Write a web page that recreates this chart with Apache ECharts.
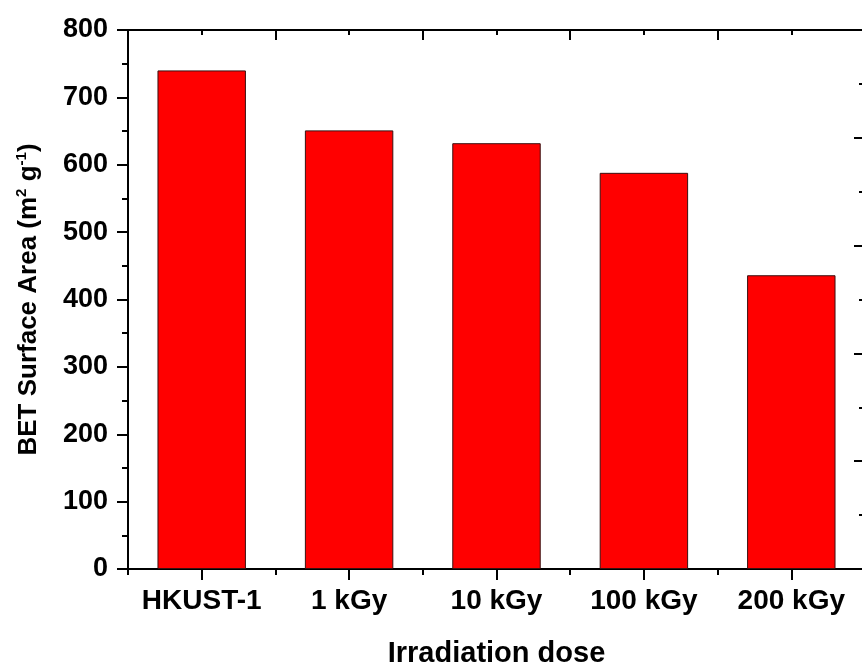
<!DOCTYPE html>
<html>
<head>
<meta charset="utf-8">
<script src="https://cdn.jsdelivr.net/npm/echarts@6/dist/echarts.min.js"></script>
<style>
  html, body { margin: 0; padding: 0; background: #fff; }
  #chart { width: 862px; height: 666px; }
</style>
</head>
<body>
<div id="chart"></div>
<script>
// data
const categories = ["HKUST-1", "1 kGy", "10 kGy", "100 kGy", "200 kGy"];
const betArea = [740, 651, 632, 588, 436];
const yTicks = { min: 0, max: 800, step: 100 };

const font = "'Liberation Sans', Arial, sans-serif";
const lineStyle = { color: "#000", width: 2 };

const chart = echarts.init(document.getElementById("chart"));

// hidden helper for the extra tick rows on the category axes
function tickAxis(position, inside, alignWithLabel, length) {
  return {
    type: "category",
    position: position,
    data: categories,
    axisLine: { show: true, lineStyle: lineStyle },
    axisTick: { show: true, inside: inside, alignWithLabel: alignWithLabel, length: length, lineStyle: lineStyle },
    axisLabel: { show: false },
    splitLine: { show: false },
  };
}

const option = {
  backgroundColor: "#fff",
  animation: false,
  grid: { left: 128, top: 30, width: 737, height: 539, containLabel: false, outerBoundsMode: "none" },
  xAxis: [
    {
      type: "category",
      position: "bottom",
      data: categories,
      name: "Irradiation dose",
      nameLocation: "middle",
      nameGap: 70,
      nameTextStyle: { fontFamily: font, fontWeight: "bold", fontSize: 29, color: "#000" },
      axisLine: { show: true, lineStyle: lineStyle },
      axisTick: { show: true, alignWithLabel: true, length: 11, lineStyle: lineStyle },
      axisLabel: { interval: 0, hideOverlap: false, margin: 18, fontFamily: font, fontWeight: "bold", fontSize: 28, color: "#000" },
    },
    tickAxis("bottom", false, false, 6),
    tickAxis("top", true, false, 10),
    tickAxis("top", true, true, 5),
  ],
  yAxis: [
    {
      type: "value",
      position: "left",
      min: yTicks.min,
      max: yTicks.max,
      interval: yTicks.step,
      name: "BET Surface Area (m{sup|2} g{sup|-1})",
      nameLocation: "middle",
      nameRotate: 90,
      nameGap: 84,
      nameTextStyle: {
        fontFamily: font, fontWeight: "bold", fontSize: 26, color: "#000",
        rich: {
          sup: { fontFamily: font, fontWeight: "bold", fontSize: 15, color: "#000", verticalAlign: "top", lineHeight: 30 },
        },
      },
      axisLine: { show: true, lineStyle: lineStyle },
      axisTick: { show: true, length: 11, lineStyle: lineStyle },
      minorTick: { show: true, splitNumber: 2, length: 6, lineStyle: lineStyle },
      axisLabel: { margin: 20, fontFamily: font, fontWeight: "bold", fontSize: 27, color: "#000" },
      splitLine: { show: false },
    },
    {
      type: "value",
      position: "right",
      min: 0,
      max: 800,
      interval: 160,
      axisLine: { show: true, lineStyle: lineStyle },
      axisTick: { show: true, inside: true, length: 11, lineStyle: lineStyle },
      minorTick: { show: true, splitNumber: 2, length: 6, lineStyle: lineStyle },
      axisLabel: { show: false },
      splitLine: { show: false },
    },
  ],
  series: [
    {
      type: "bar",
      xAxisIndex: 0,
      yAxisIndex: 0,
      data: betArea,
      barWidth: "60%",
      itemStyle: { color: "#ff0000", borderColor: "#3a1010", borderWidth: 1 },
    },
  ],
};

chart.setOption(option);
</script>
</body>
</html>
